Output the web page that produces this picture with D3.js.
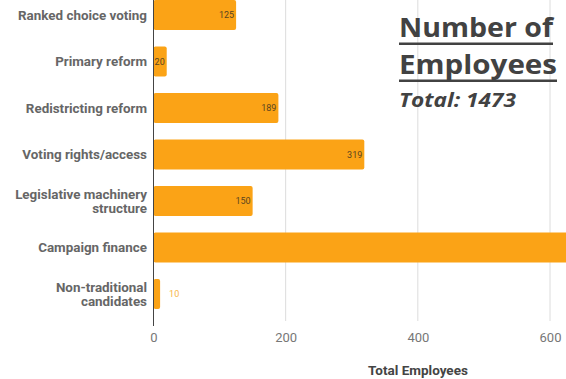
<!DOCTYPE html>
<html>
<head>
<meta charset="utf-8">
<script src="https://cdn.jsdelivr.net/npm/d3@7"></script>
<style>
  html, body { margin: 0; padding: 0; background: #fff; }
  svg { display: block; }
</style>
</head>
<body>
<svg id="chart" width="566" height="379"></svg>
<script>
// Reform categories and employee counts
const categories = [
  ["Ranked choice voting"],
  ["Primary reform"],
  ["Redistricting reform"],
  ["Voting rights/access"],
  ["Legislative machinery", "structure"],
  ["Campaign finance"],
  ["Non-traditional", "candidates"]
];
const employees = [125, 20, 189, 319, 150, 660, 10];
const xTicks = [0, 200, 400, 600];
const totalEmployees = 1473;

const svg = d3.select("#chart");
const W = 566, H = 379;
const left = 153.5;

const keys = categories.map(c => c.join(" "));
const x = d3.scaleLinear().domain([0, 600]).range([left, 550]);
const y = d3.scaleBand().domain(keys).range([-8.25, 317.25])
  .paddingInner(0.355).paddingOuter(0.1775);

// Gridlines
svg.append("g").selectAll("line").data(xTicks.filter(t => t > 0)).join("line")
  .attr("x1", d => x(d)).attr("x2", d => x(d))
  .attr("y1", 0).attr("y2", 321)
  .attr("stroke", "#dcdcdc").attr("stroke-width", 1);

// Bars
const barColor = "#fba316";
svg.append("g").selectAll("rect").data(employees).join("rect")
  .attr("x", x(0))
  .attr("y", (d, i) => y(keys[i]))
  .attr("width", d => x(d) - x(0))
  .attr("height", y.bandwidth())
  .attr("rx", 2)
  .attr("fill", barColor);

// Value labels (inside the bar end when it fits, otherwise just past it;
// labels that would fall beyond the drawing area are left out)
const inside = d => x(d) - x(0) > 12;
const shown = employees.map((d, i) => ({ d, i })).filter(o => x(o.d) < W);
svg.append("g").selectAll("text").data(shown).join("text")
  .attr("x", o => (inside(o.d) ? x(o.d) - 2 : x(o.d) + 9))
  .attr("y", o => y(keys[o.i]) + y.bandwidth() / 2)
  .attr("dy", "0.35em")
  .attr("text-anchor", o => (inside(o.d) ? "end" : "start"))
  .attr("font-family", "Roboto, sans-serif")
  .attr("font-size", 9)
  .attr("fill", o => (inside(o.d) ? "#5a4520" : "#f7b648"))
  .text(o => o.d);

// Y axis line
svg.append("line")
  .attr("x1", left).attr("x2", left)
  .attr("y1", 0).attr("y2", 326)
  .attr("stroke", "#444").attr("stroke-width", 1);

// Category labels
const lab = svg.append("g").selectAll("text").data(categories).join("text")
  .attr("text-anchor", "end")
  .attr("font-family", "Roboto, sans-serif")
  .attr("font-weight", "bold")
  .attr("font-size", 13.4)
  .attr("fill", "#666");
lab.each(function(lines, i) {
  const cy = y(keys[i]) + y.bandwidth() / 2;
  const lh = 14;
  const t = d3.select(this);
  lines.forEach((ln, j) => {
    t.append("tspan")
      .attr("x", 147)
      .attr("y", cy + (j - (lines.length - 1) / 2) * lh)
      .attr("dy", "0.35em")
      .text(ln);
  });
});

// X axis tick labels
const xAxis = d3.axisBottom(x).tickValues(xTicks).tickSize(0).tickPadding(0);
const gx = svg.append("g").attr("transform", "translate(0,333)").call(xAxis);
gx.select(".domain").remove();
gx.selectAll("text")
  .attr("font-family", "Roboto, sans-serif")
  .attr("font-size", 13)
  .attr("fill", "#777");

// X axis title
svg.append("text")
  .attr("x", 418).attr("y", 375)
  .attr("text-anchor", "middle")
  .attr("font-family", "Roboto, sans-serif")
  .attr("font-weight", "bold")
  .attr("font-size", 13.5)
  .attr("fill", "#444")
  .text("Total Employees");

// Title block
const title = svg.append("g").attr("fill", "#424242");
[["Number of", 37, 44], ["Employees", 74, 81]].forEach(([txt, by, uy]) => {
  title.append("text")
    .attr("x", 399).attr("y", by)
    .attr("font-family", "'Open Sans', sans-serif")
    .attr("font-weight", "bold")
    .attr("font-size", 27)
    .attr("textLength", txt === "Employees" ? 158 : 154)
    .attr("lengthAdjust", "spacingAndGlyphs")
    .text(txt);
  title.append("rect")
    .attr("x", 399).attr("y", uy - 1.5)
    .attr("width", txt === "Employees" ? 158 : 154).attr("height", 2.5);
});
title.append("text")
  .attr("x", 399).attr("y", 107)
  .attr("font-family", "'Open Sans', sans-serif")
  .attr("font-weight", "bold")
  .attr("font-style", "italic")
  .attr("font-size", 19)
  .attr("textLength", 117)
  .attr("lengthAdjust", "spacingAndGlyphs")
  .text("Total: " + totalEmployees);
</script>
</body>
</html>
